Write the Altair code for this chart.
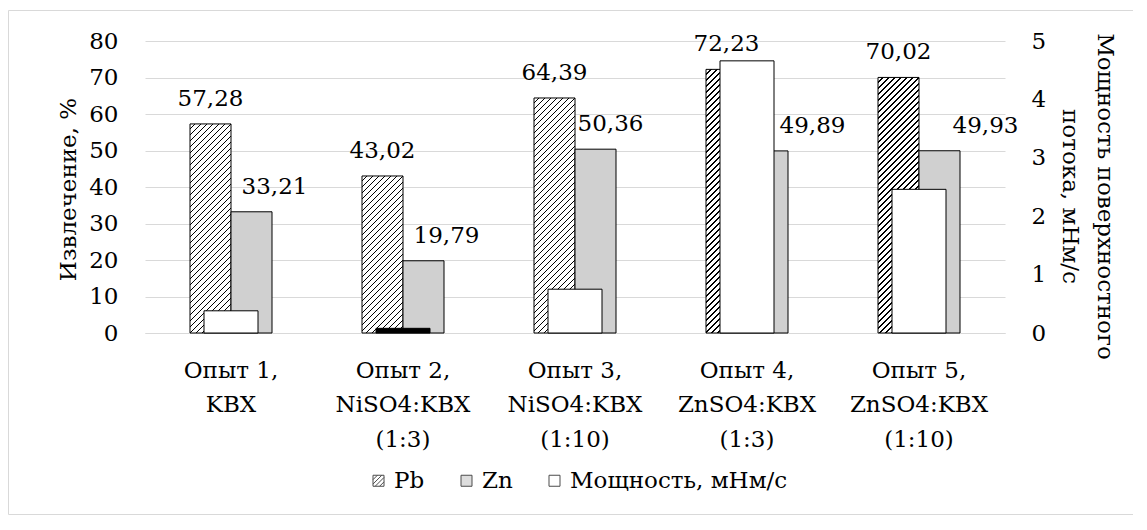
import altair as alt
import pandas as pd

# ---------------- data ----------------
categories = [
    "Опыт 1,|KBX",
    "Опыт 2,|NiSO4:KBX|(1:3)",
    "Опыт 3,|NiSO4:KBX|(1:10)",
    "Опыт 4,|ZnSO4:KBX|(1:3)",
    "Опыт 5,|ZnSO4:KBX|(1:10)",
]
pb_values = [57.28, 43.02, 64.39, 72.23, 70.02]
zn_values = [33.21, 19.79, 50.36, 49.89, 49.93]
power_values = [0.38, 0.08, 0.75, 4.66, 2.46]
series_names = ["Pb", "Zn", "Мощность, мНм/с"]
left_ticks = [0, 10, 20, 30, 40, 50, 60, 70, 80]
right_ticks = [0, 1, 2, 3, 4, 5]

# ---------------- style ----------------
FONT = "DejaVu Serif"
FS = 23
GRID = "#d9d9d9"
ZN_FILL = "#d0d0d0"
W, H = 860, 292
PAD = {"left": 137, "top": 33, "right": 128, "bottom": 185}
STEP = W / len(categories)
BAR_W = 41
PI = 1 - 2 * BAR_W / STEP
PO = PI / 2
LEFT_MAX = left_ticks[-1]
ZN_LABEL_DX = [23, 23, 15, 45, 46]   # label shifts (style), per category
LABEL_DY = -18

HATCH_SYMBOL = ("M-1,-1H1V1H-1Z"
                "M-1,-0.2L-0.2,-1M-1,0.6L0.6,-1M-0.6,1L1,-0.6M0.2,1L1,0.2")


def hatch(w, h, period=6.0, dark=0.27, light="rgba(0,0,0,0)", ink="black"):
    s = w + h
    d = w * w + h * h
    n = int(s / period) + 1
    p = period / s
    stops = []
    for k in range(n):
        a = min(k * p, 1.0)
        b = min(k * p + (1 - dark) * p, 1.0)
        c = min((k + 1) * p, 1.0)
        stops += [
            {"offset": round(a, 6), "color": light},
            {"offset": round(b, 6), "color": light},
            {"offset": round(b, 6), "color": ink},
            {"offset": round(c, 6), "color": ink},
        ]
    return {"gradient": "linear", "x1": 0, "y1": 0,
            "x2": w * s / d, "y2": h * s / d, "stops": stops}


rows = []
for c, p, z in zip(categories, pb_values, zn_values):
    rows.append({"cat": c, "series": "Pb", "value": p})
    rows.append({"cat": c, "series": "Zn", "value": z})
bars_df = pd.DataFrame(rows)
power_df = pd.DataFrame({"cat": categories, "power": power_values})
legend_df = pd.DataFrame({"series": series_names})

x_enc = alt.X(
    "cat:N", sort=categories,
    scale=alt.Scale(domain=categories, paddingInner=PI, paddingOuter=PO),
    axis=alt.Axis(title=None, labelExpr="split(datum.label, '|')", labelAngle=0,
                  labelFont=FONT, labelFontSize=FS, labelColor="black",
                  labelLineHeight=34.5, labelBaseline="top", labelPadding=26,
                  labelLimit=400, ticks=False, tickSize=0, domain=True,
                  domainColor=GRID, domainWidth=1, grid=False),
)
xoff = alt.XOffset("series:N",
                   scale=alt.Scale(domain=["Pb", "Zn"], paddingInner=0, paddingOuter=0))
y_left = alt.Y(
    "value:Q", scale=alt.Scale(domain=[0, LEFT_MAX], nice=False, zero=True),
    axis=alt.Axis(values=left_ticks, grid=True, gridColor=GRID, gridWidth=1,
                  domain=False, ticks=False, tickSize=0, labelPadding=27,
                  labelFont=FONT, labelFontSize=FS, labelColor="black",
                  title="Извлечение, %", titleFont=FONT, titleFontSize=FS,
                  titleFontWeight="normal", titleColor="black", titleAngle=270,
                  titleX=-70, titleY=148, titleAlign="center",
                  titleBaseline="alphabetic"),
)
y_left_noaxis = alt.Y("value:Q",
                      scale=alt.Scale(domain=[0, LEFT_MAX], nice=False, zero=True),
                      axis=None)

legend = alt.Legend(
    title=None, orient="none", direction="horizontal", legendX=222, legendY=428,
    symbolSize=121, symbolStrokeColor="black", symbolStrokeWidth=1,
    labelFont=FONT, labelFontSize=FS, labelColor="black",
    labelOffset=4, columnPadding=30, labelLimit=500,
)
fill_scale = alt.Scale(domain=series_names, range=["white", ZN_FILL, "white"])

bars = alt.Chart(bars_df).mark_bar(stroke="black", strokeWidth=1).encode(
    x=x_enc, xOffset=xoff, y=y_left,
    fill=alt.Fill("series:N", scale=fill_scale, legend=legend),
)

legend_layer = alt.Chart(legend_df).transform_filter("false").mark_point(
    filled=True, stroke="black", strokeWidth=1).encode(
    fill=alt.Fill("series:N", scale=fill_scale, legend=legend),
    shape=alt.Shape("series:N",
                    scale=alt.Scale(domain=series_names,
                                    range=[HATCH_SYMBOL, "square", "square"]),
                    legend=legend),
)

hatch_layers = []
for c, p in zip(categories, pb_values):
    g = hatch(BAR_W, p * H / LEFT_MAX)
    hatch_layers.append(
        alt.Chart(bars_df)
        .transform_filter(f"datum.series === 'Pb' && datum.cat === '{c}'")
        .mark_bar(fill=g, strokeWidth=0)
        .encode(x=x_enc, xOffset=xoff, y=y_left)
    )

left_group = alt.layer(bars, legend_layer, *hatch_layers)

power = alt.Chart(power_df).mark_bar(size=54, stroke="black", strokeWidth=1).encode(
    x=x_enc,
    y=alt.Y("power:Q", scale=alt.Scale(domain=[0, right_ticks[-1]], nice=False),
            axis=alt.Axis(orient="right", values=right_ticks, grid=False,
                          domain=False, ticks=False, tickSize=0, labelPadding=26,
                          labelFont=FONT, labelFontSize=FS, labelColor="black",
                          title=["Мощность поверхностного", "потока, мНм/с"],
                          titleFont=FONT, titleFontSize=FS, titleFontWeight="normal",
                          titleColor="black", titleAngle=90, titleX=92, titleY=155,
                          titleAlign="center", titleBaseline="alphabetic",
                          titleLineHeight=35)),
    fill=alt.condition("datum.power < 0.1", alt.value("black"), alt.value("white")),
)

label_base = alt.Chart(bars_df).transform_calculate(
    label="replace(format(datum.value, '.2f'), '.', ',')"
)
txt = dict(font=FONT, fontSize=FS, color="black", baseline="alphabetic", align="center")
label_layers = [
    label_base.transform_filter("datum.series === 'Pb'").mark_text(
        dy=LABEL_DY, **txt).encode(x=x_enc, xOffset=xoff, y=y_left_noaxis, text="label:N")
]
for c, dx in zip(categories, ZN_LABEL_DX):
    label_layers.append(
        label_base.transform_filter(f"datum.series === 'Zn' && datum.cat === '{c}'")
        .mark_text(dy=LABEL_DY, dx=dx, **txt)
        .encode(x=x_enc, xOffset=xoff, y=y_left_noaxis, text="label:N")
    )
label_group = alt.layer(*label_layers)

frame = alt.Chart(pd.DataFrame({"k": [0]})).mark_rect(
    fillOpacity=0, stroke=GRID, strokeWidth=1).encode(
    x=alt.value(-136.5), x2=alt.value(1200),
    y=alt.value(-30.5), y2=alt.value(473.5),
)

chart = (
    alt.layer(frame, left_group, power, label_group)
    .resolve_scale(y="independent")
    .properties(width=W, height=H, padding=PAD, autosize="none", background="white")
    .configure_view(stroke=None)
)

chart.save("out.html", embed_options={"renderer": "svg", "actions": False})
